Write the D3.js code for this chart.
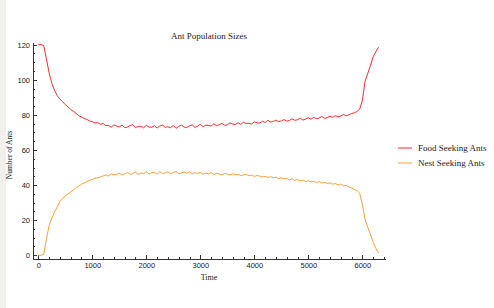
<!DOCTYPE html>
<html lang="en">
<head>
<meta charset="utf-8">
<title>Ant Population Sizes</title>
<script src="https://cdnjs.cloudflare.com/ajax/libs/d3/7.8.5/d3.min.js"></script>
<style>
  html, body {margin: 0; padding: 0; background: #fff;}
  svg {display: block; font-family: "Liberation Serif", "DejaVu Serif", serif;}
  .axis path, .axis line {stroke: #333; shape-rendering: crispEdges;}
  .axis text {fill: #222; font-size: 7.5px;}
</style>
</head>
<body>
<svg id="chart" width="494" height="308"></svg>
<script>
  // sampled every 50 time units, starting at 0
  var timeStep = 50;
  var foodSeeking = [
    120, 120, 119.5, 112, 104, 98, 94, 91, 89, 87.5,
    85.8, 84.6, 83, 82, 80.8, 79.5, 78.8, 77.9, 77.4, 76.5,
    76.2, 75.3, 75.6, 74.6, 75.1, 73.8, 74.0, 72.9, 74.3, 73.6,
    73.1, 74.2, 72.7, 73.0, 73.9, 74.4, 72.8, 73.3, 73.5, 72.6,
    74.0, 73.1, 72.9, 73.8, 72.5, 73.6, 74.1, 72.9, 73.2, 72.7,
    73.9, 72.3, 73.4, 74.2, 73.0, 72.8, 73.7, 74.3, 72.9, 73.5,
    74.6, 73.3, 74.1, 74.0, 73.6, 74.9, 73.8, 74.4, 75.2, 74.0,
    74.3, 75.4, 74.7, 74.5, 75.5, 74.6, 75.8, 75.0, 75.2, 74.8,
    76.0, 75.5, 75.3, 76.4, 75.6, 76.9, 75.9, 76.2, 77.0, 76.1,
    76.5, 77.3, 76.4, 76.8, 77.7, 76.9, 77.2, 78.1, 77.0, 77.6,
    78.3, 77.5, 78.6, 77.8, 78.2, 79.1, 78.0, 78.4, 79.2, 78.6,
    79.5, 78.9, 79.3, 80.2, 79.4, 80.0, 80.8, 81.1, 81.9, 83.2,
    88, 99, 103.5, 108, 113, 116, 118.5
  ];
  var nestSeeking = [
    0, 0, 0.5, 9, 17, 21, 24.5, 27.5, 30.5, 32.5,
    33.8, 35, 36, 37.3, 38.6, 39.4, 40.5, 41.2, 42, 42.6,
    43.2, 43.9, 44.1, 44.6, 45.2, 45.8, 45.1, 46.3, 45.9, 46.0,
    46.8, 45.7, 46.4, 47.2, 46.1, 46.6, 47.4, 46.0, 46.9, 46.5,
    47.6, 46.3, 47.0, 47.3, 46.2, 47.7, 46.6, 46.9, 47.5, 46.4,
    47.1, 47.8, 46.5, 46.9, 47.4, 46.7, 47.6, 46.3, 47.0, 46.6,
    47.2, 46.1, 46.8, 46.4, 47.1, 46.0, 46.7, 46.3, 45.8, 46.6,
    46.2, 45.6, 46.4, 45.9, 46.1, 45.4, 45.8, 46.0, 45.3, 45.7,
    44.9, 45.4, 45.1, 44.6, 45.0, 44.3, 44.8, 44.1, 44.5, 43.7,
    44.2, 43.5, 43.8, 42.9, 43.6, 42.7, 43.1, 42.4, 42.9, 42.0,
    42.5, 41.8, 42.2, 41.4, 42.0, 41.1, 41.6, 40.8, 41.3, 40.5,
    40.9, 40.1, 40.6, 39.6, 39.8, 38.9, 38.4, 37.5, 36.9, 35.3,
    29, 20.5, 16, 12, 7.5, 4, 1.2
  ];
  var seriesNames = ["Food Seeking Ants", "Nest Seeking Ants"];
  var seriesColors = ["#ff2a2a", "#ff9f3a"];
  var xTicks = [0, 1000, 2000, 3000, 4000, 5000, 6000];
  var yTicks = [0, 20, 40, 60, 80, 100, 120];

  var svg = d3.select("#chart");

  // grey strip on the left edge
  svg.append("rect").attr("x", 0).attr("y", 0).attr("width", 6).attr("height", 308).attr("fill", "#f1f0ec");

  var x = d3.scaleLinear().domain([-98, 6433]).range([33, 385.7]);
  var y = d3.scaleLinear().domain([-2.3, 121.5]).range([259.3, 42]);

  var xMinor = d3.range(200, 6401, 200).filter(function (d) { return d % 1000 !== 0; });
  var yMinor = d3.range(5, 121, 5).filter(function (d) { return d % 20 !== 0; });

  // minor ticks first
  svg.append("g").attr("class", "axis")
    .attr("transform", "translate(0,259.3)")
    .call(d3.axisBottom(x).tickValues(xMinor).tickFormat("").tickSizeInner(-2).tickSizeOuter(0))
    .select(".domain").remove();
  svg.append("g").attr("class", "axis")
    .attr("transform", "translate(33,0)")
    .call(d3.axisLeft(y).tickValues(yMinor).tickFormat("").tickSizeInner(-2).tickSizeOuter(0))
    .select(".domain").remove();

  svg.append("g").attr("class", "axis")
    .attr("transform", "translate(0,259.3)")
    .call(d3.axisBottom(x).tickValues(xTicks).tickFormat(d3.format("d"))
      .tickSizeInner(-4).tickSizeOuter(0).tickPadding(3));
  svg.append("g").attr("class", "axis")
    .attr("transform", "translate(33,0)")
    .call(d3.axisLeft(y).tickValues(yTicks).tickFormat(d3.format("d"))
      .tickSizeInner(-4).tickSizeOuter(0).tickPadding(3));

  var line = d3.line()
    .x(function (d, i) { return x(i * timeStep); })
    .y(function (d) { return y(d); });

  [foodSeeking, nestSeeking].forEach(function (s, i) {
    svg.append("path")
      .datum(s)
      .attr("fill", "none")
      .attr("stroke", seriesColors[i])
      .attr("stroke-width", 1)
      .attr("stroke-linejoin", "round")
      .attr("d", line);
  });

  svg.append("text")
    .attr("x", 209).attr("y", 39)
    .attr("text-anchor", "middle")
    .attr("font-size", 9)
    .attr("fill", "#222")
    .text("Ant Population Sizes");

  svg.append("text")
    .attr("x", 209).attr("y", 280)
    .attr("text-anchor", "middle")
    .attr("font-size", 8)
    .attr("fill", "#222")
    .text("Time");

  svg.append("text")
    .attr("transform", "translate(12,155) rotate(-90)")
    .attr("text-anchor", "middle")
    .attr("font-size", 7.5)
    .attr("fill", "#222")
    .text("Number of Ants");

  var legend = svg.append("g").attr("transform", "translate(398,148)");
  seriesNames.forEach(function (name, i) {
    var g = legend.append("g").attr("transform", "translate(0," + (i * 15) + ")");
    g.append("line").attr("x1", 0).attr("x2", 14).attr("y1", 0).attr("y2", 0)
      .attr("stroke", seriesColors[i]).attr("stroke-width", 1);
    g.append("text").attr("x", 20).attr("y", 3)
      .attr("font-size", 9).attr("fill", "#222")
      .text(name);
  });
</script>
</body>
</html>
